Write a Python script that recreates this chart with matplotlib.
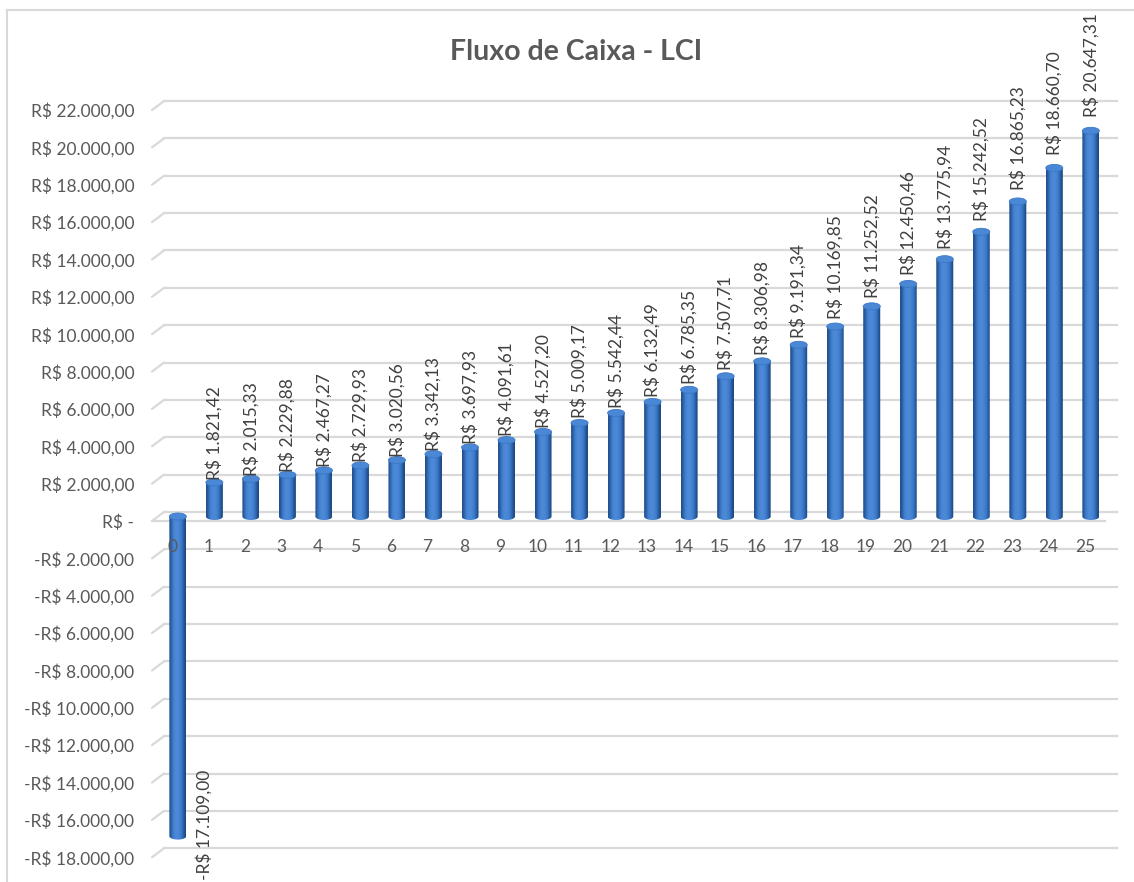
import numpy as np
import matplotlib
matplotlib.use('Agg')
import matplotlib.pyplot as plt
from matplotlib.path import Path
from matplotlib.patches import Ellipse, PathPatch
from matplotlib.lines import Line2D

plt.rcParams['font.family'] = ['Lato', 'DejaVu Sans']

# fluxo de caixa por periodo
periodos = list(range(26))
valores = [-17109.00, 1821.42, 2015.33, 2229.88, 2467.27, 2729.93, 3020.56,
           3342.13, 3697.93, 4091.61, 4527.20, 5009.17, 5542.44, 6132.49,
           6785.35, 7507.71, 8306.98, 9191.34, 10169.85, 11252.52, 12450.46,
           13775.94, 15242.52, 16865.23, 18660.70, 20647.31]
yticks = list(range(-18000, 22001, 2000))
titulo = 'Fluxo de Caixa - LCI'


def brl(v):
    if v == 0:
        return 'R$ -'
    s = f'{abs(v):,.2f}'.replace(',', '_').replace('.', ',').replace('_', '.')
    return ('-' if v < 0 else '') + 'R$ ' + s


W, H = 1134, 882
fig = plt.figure(figsize=(W / 100, H / 100), dpi=100)
fig.patch.set_facecolor('white')

# axes placed so that 1 category = 36.5 px and 1000 = 18.7 px
px_l, px_r, px_t, px_b = 140, 1125, 70, 880
ax = fig.add_axes([px_l / W, (H - px_b) / H, (px_r - px_l) / W, (px_b - px_t) / H])
cat_px = 36.52
val_px = 0.01868
ax.set_xlim((px_l - 172) / cat_px, (px_r - 172) / cat_px)
ax.set_ylim((521 - px_b) / val_px, (521 - px_t) / val_px)
for sp in ax.spines.values():
    sp.set_visible(False)
ax.set_xticks([])
ax.set_yticks(yticks)
ax.set_yticklabels([brl(v) for v in yticks])
ax.tick_params(axis='y', length=0, pad=4, labelsize=12.5, labelcolor='#595959')

# 3D depth offsets (back wall / middle of the floor)
dx_back = 12 / cat_px
dy_back = 9 / val_px
dx_mid = 0.16
dy_mid = 4.5 / val_px
x_front = -20 / cat_px
grid_c = '#d9d9d9'

for v in yticks:
    ax.plot([x_front, x_front + dx_back], [v, v + dy_back], color=grid_c, lw=1.6, zorder=1,
            solid_capstyle='round')
    ax.plot([x_front + dx_back, 25.88], [v + dy_back, v + dy_back], color=grid_c, lw=1.6, zorder=1)
# front edge of the floor
ax.plot([x_front, 25.55], [0, 0], color=grid_c, lw=1.6, zorder=1)

# cylinder columns
bw = 17 / cat_px
eh = 7 / val_px
grad = np.array([[0.05, 0.4, 0.58, 0.6, 0.5, 0.3, 0.0]])
cmap = matplotlib.colors.LinearSegmentedColormap.from_list(
    'cil', ['#1d4882', '#3472c2', '#4d8bd9'])

for p, v in zip(periodos, valores):
    xc = p + dx_mid
    x0, x1 = xc - bw / 2, xc + bw / 2
    top = max(v, 0) + dy_mid
    bot = min(v, 0) + dy_mid
    t = np.linspace(np.pi, 2 * np.pi, 30)
    arc = np.column_stack([xc + bw / 2 * np.cos(t), bot + eh / 2 * np.sin(t)])
    verts = np.vstack([[x0, top], arc, [x1, top], [x0, top]])
    clip = PathPatch(Path(verts), facecolor='none', edgecolor='none', transform=ax.transData)
    ax.add_patch(clip)
    im = ax.imshow(grad, cmap=cmap, vmin=0, vmax=0.6, extent=(x0, x1, bot - eh, top),
                   aspect='auto', interpolation='bicubic', zorder=3)
    im.set_clip_path(clip)
    ax.add_patch(Ellipse((xc, top), bw, eh, facecolor='#4a88d6', edgecolor='#3a78c8',
                         lw=0.6, zorder=4))

# category labels
for p in periodos:
    ax.text(p, -1392, str(p), ha='center', va='center', fontsize=12.5, color='#595959',
            zorder=5)

# data labels
for p, v in zip(periodos, valores):
    if v >= 0:
        ax.text(p + dx_mid, 1.0332 * v + 316, brl(v), rotation=90, ha='center', va='bottom',
                fontsize=12.5, color='#404040', zorder=6)
    else:
        ax.annotate(brl(v), xy=(p + dx_mid, v), xytext=(26, 71), textcoords='offset pixels',
                    rotation=90, ha='center', va='top', fontsize=12.5, color='#404040',
                    zorder=6, annotation_clip=False)

fig.text(576 / W, 1 - 52 / H, titulo, ha='center', va='center', fontsize=20.5,
         fontweight='bold', color='#595959')

# chart area border
fig.add_artist(Line2D([7 / W, 1], [1 - 10 / H, 1 - 10 / H], color=grid_c, lw=1.5))
fig.add_artist(Line2D([7 / W, 7 / W], [0, 1 - 10 / H], color=grid_c, lw=1.5))

fig.savefig('out.png', dpi=100, facecolor='white')
